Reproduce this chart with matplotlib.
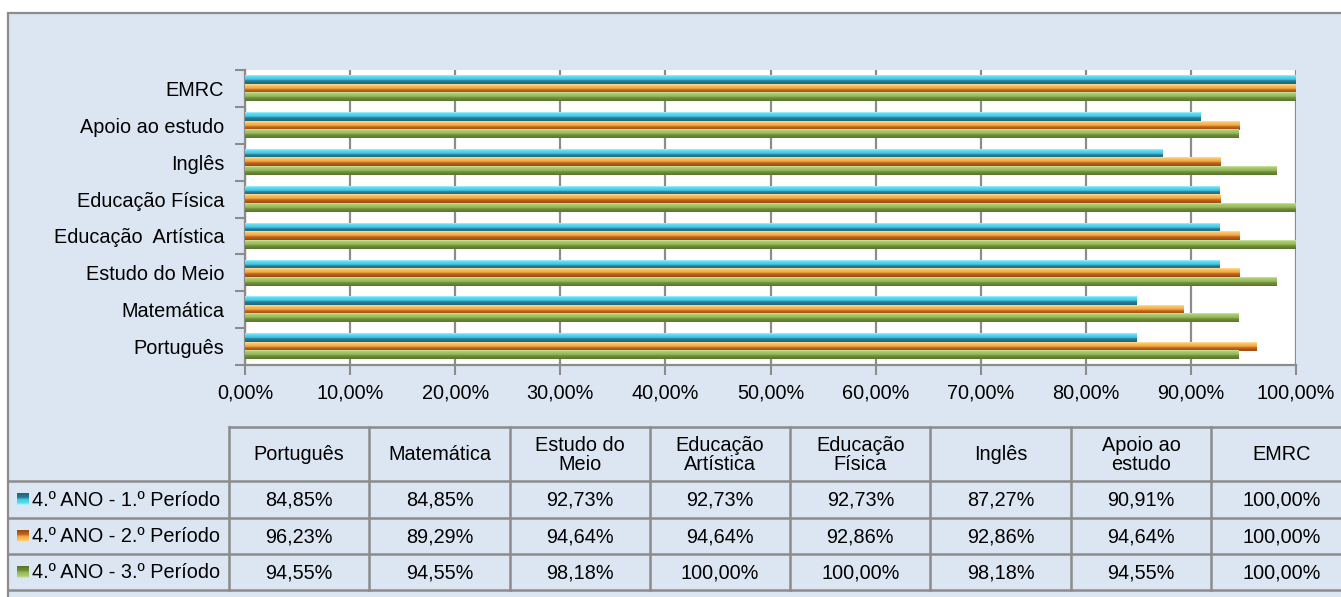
import numpy as np
import matplotlib
matplotlib.use("Agg")
import matplotlib.pyplot as plt
from matplotlib.colors import LinearSegmentedColormap
from matplotlib.patches import Rectangle
from matplotlib.ticker import FuncFormatter, FixedLocator

plt.rcParams['font.family'] = ['Liberation Sans', 'DejaVu Sans']

# dados
disciplinas = ["Português", "Matemática", "Estudo do Meio", "Educação  Artística",
               "Educação Física", "Inglês", "Apoio ao estudo", "EMRC"]
cabecalho = ["Português", "Matemática", "Estudo do\nMeio", "Educação\nArtística",
             "Educação\nFísica", "Inglês", "Apoio ao\nestudo", "EMRC"]
series = ["4.º ANO - 1.º Período", "4.º ANO - 2.º Período", "4.º ANO - 3.º Período"]
periodo_1 = [84.85, 84.85, 92.73, 92.73, 92.73, 87.27, 90.91, 100.00]
periodo_2 = [96.23, 89.29, 94.64, 94.64, 92.86, 92.86, 94.64, 100.00]
periodo_3 = [94.55, 94.55, 98.18, 100.00, 100.00, 98.18, 94.55, 100.00]
x_ticks = [0, 10, 20, 30, 40, 50, 60, 70, 80, 90, 100]

valores = [periodo_1, periodo_2, periodo_3]

# gradientes (baixo -> cima) para imitar o efeito 3D
cores = [
    ["#1f6578", "#2a7f96", "#45c4e2", "#5adcf6", "#b0f4ff"],
    ["#9a4a14", "#c2681f", "#f2a63c", "#fdc465", "#ffe2a6"],
    ["#59752e", "#71913c", "#95b85a", "#aacb6e", "#d4e8ac"],
]
cmaps = [LinearSegmentedColormap.from_list(f"s{i}", list(zip([0, 0.38, 0.52, 0.85, 1.0], c)))
         for i, c in enumerate(cores)]

W, H = 1341, 597
fig = plt.figure(figsize=(W / 100, H / 100), dpi=100, facecolor="white")

# fundo e tabela em coordenadas de pixel
bg = fig.add_axes([0, 0, 1, 1], zorder=0)
bg.set_xlim(0, W)
bg.set_ylim(H, 0)
bg.axis("off")
bg.add_patch(Rectangle((8.5, 12.5), W + 50, H + 50, facecolor="#dce6f2",
                       edgecolor="#8c8c8c", lw=1.6))

grey = "#8c8c8c"
fs = 14.3

# grafico
ax = fig.add_axes([245 / W, 1 - 365 / H, (1296 - 245) / W, (365 - 70) / H], zorder=1)
ax.set_facecolor("white")
y = np.arange(len(disciplinas))
h = 0.23
offsets = [h, 0, -h]
for s in range(3):
    for i, v in enumerate(valores[s]):
        yc = y[i] + offsets[s]
        grad = np.linspace(0, 1, 60).reshape(-1, 1)
        ax.imshow(grad, cmap=cmaps[s], aspect="auto", origin="lower",
                  extent=[0, v, yc - h / 2, yc + h / 2], interpolation="bilinear", zorder=3)

ax.set_xlim(0, 100)
ax.set_ylim(-0.5, len(disciplinas) - 0.5)
ax.xaxis.set_major_locator(FixedLocator(x_ticks))
ax.xaxis.set_major_formatter(FuncFormatter(lambda v, p: f"{v:.2f}".replace(".", ",") + "%"))
ax.grid(axis="x", color=grey, lw=1.6, zorder=1)
ax.set_axisbelow(True)

ax.yaxis.set_major_locator(FixedLocator(np.arange(-0.5, len(disciplinas), 1.0)))
ax.yaxis.set_major_formatter(FuncFormatter(lambda v, p: ""))
ax.yaxis.set_minor_locator(FixedLocator(y))
ax.set_yticklabels(disciplinas, minor=True)
ax.tick_params(axis="y", which="major", length=7, width=1.5, color=grey, direction="out")
ax.tick_params(axis="y", which="minor", length=0, pad=15, labelsize=fs)
ax.tick_params(axis="x", length=7, width=1.5, color=grey, direction="out", pad=6, labelsize=fs)
for sp in ["top", "right"]:
    ax.spines[sp].set_visible(False)
for sp in ["left", "bottom"]:
    ax.spines[sp].set_color(grey)
    ax.spines[sp].set_linewidth(1.6)

# tabela de dados
col0 = 229
cw = 140.3
rows = [427, 481, 518, 554, 590]
right = W + 20
bg.plot([col0, right], [rows[0], rows[0]], color=grey, lw=1.8)
for r in rows[1:]:
    bg.plot([8, right], [r, r], color=grey, lw=1.8)
for j in range(len(cabecalho) + 1):
    xx = col0 + j * cw
    bg.plot([xx, xx], [rows[0], rows[-1]], color=grey, lw=1.8)

for j, txt in enumerate(cabecalho):
    bg.text(col0 + (j + 0.5) * cw, (rows[0] + rows[1]) / 2 + 1, txt, ha="center", va="center",
            fontsize=fs, linespacing=0.95)

for s in range(3):
    yc = (rows[s + 1] + rows[s + 2]) / 2
    grad = np.linspace(0, 1, 20).reshape(-1, 1)
    bg.imshow(grad, cmap=cmaps[s], aspect="auto", origin="upper",
              extent=[17, 29, yc + 6, yc - 6], interpolation="bilinear", zorder=3)
    bg.text(32, yc + 1, series[s], ha="left", va="center", fontsize=fs)
    for j, v in enumerate(valores[s]):
        bg.text(col0 + (j + 0.5) * cw, yc + 1, f"{v:.2f}".replace(".", ",") + "%",
                ha="center", va="center", fontsize=fs)

bg.set_xlim(0, W)
bg.set_ylim(H, 0)

fig.savefig("out.png", dpi=100, facecolor="white")
